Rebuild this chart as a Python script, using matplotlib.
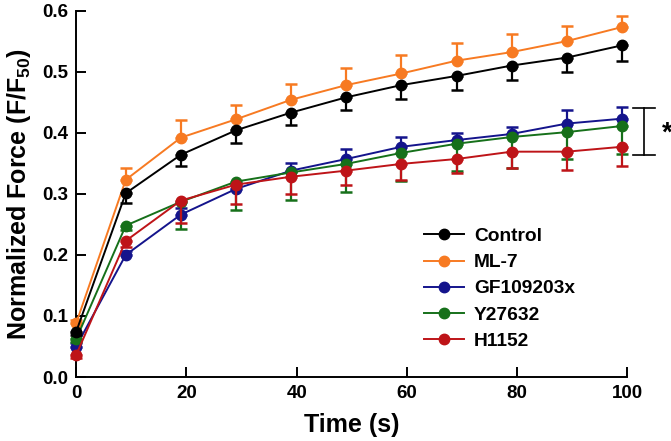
import matplotlib
matplotlib.use("Agg")
import matplotlib.pyplot as plt

plt.rcParams["font.family"] = "Liberation Sans"
plt.rcParams["font.weight"] = "bold"
plt.rcParams["mathtext.fontset"] = "custom"
plt.rcParams["mathtext.rm"] = "Liberation Sans:bold"
plt.rcParams["mathtext.it"] = "Liberation Sans:bold"
plt.rcParams["mathtext.bf"] = "Liberation Sans:bold"

time_s = [0, 9, 19, 29, 39, 49, 59, 69, 79, 89, 99]

control = [0.074, 0.301, 0.364, 0.404, 0.433, 0.458, 0.478, 0.493, 0.510, 0.523, 0.543]
control_err = [0.005, 0.016, 0.019, 0.020, 0.020, 0.020, 0.022, 0.023, 0.024, 0.024, 0.026]
ml7 = [0.088, 0.323, 0.392, 0.422, 0.454, 0.478, 0.497, 0.518, 0.532, 0.550, 0.573]
ml7_err = [0.005, 0.020, 0.029, 0.023, 0.026, 0.028, 0.030, 0.029, 0.029, 0.025, 0.018]
gf = [0.050, 0.200, 0.266, 0.308, 0.338, 0.357, 0.377, 0.388, 0.398, 0.415, 0.423]
gf_err = [0.005, 0.006, 0.010, 0.008, 0.012, 0.016, 0.016, 0.012, 0.011, 0.023, 0.019]
y27 = [0.062, 0.248, 0.287, 0.320, 0.335, 0.349, 0.367, 0.382, 0.393, 0.401, 0.411]
y27_err = [0.005, 0.008, 0.044, 0.046, 0.045, 0.046, 0.046, 0.045, 0.050, 0.044, 0.045]
h1152 = [0.036, 0.223, 0.289, 0.315, 0.328, 0.338, 0.349, 0.357, 0.369, 0.369, 0.377]
h1152_err = [0.005, 0.010, 0.037, 0.031, 0.028, 0.024, 0.026, 0.023, 0.027, 0.030, 0.031]

# (label, values, errors, colour, error direction)
series = [
    ("Control", control, control_err, "#000000", "down"),
    ("ML-7", ml7, ml7_err, "#F77A22", "up"),
    ("GF109203x", gf, gf_err, "#14148C", "up"),
    ("Y27632", y27, y27_err, "#16701A", "down"),
    ("H1152", h1152, h1152_err, "#BE1418", "down"),
]
draw_order = ["ML-7", "GF109203x", "Y27632", "H1152", "Control"]

fig = plt.figure(figsize=(6.71, 4.41), dpi=100)
ax = fig.add_axes([0.1135, 0.145, 0.8215, 0.831])

handles = {}
for z, name in enumerate(draw_order):
    label, vals, err, color, direction = next(s for s in series if s[0] == name)
    zeros = [0] * len(err)
    yerr = [err, zeros] if direction == "down" else [zeros, err]
    h = ax.errorbar(time_s, vals, yerr=yerr, color=color, marker="o", markersize=7.5,
                    linewidth=1.4, elinewidth=1.6, capsize=4.5, capthick=1.8,
                    label=label, clip_on=False, zorder=3 + z)
    for art in h.lines[1] + h.lines[2]:
        art.set_clip_on(False)
    handles[label] = h

leg_handles = [handles[s[0]].lines[0] for s in series]
ax.legend(leg_handles, [s[0] for s in series], loc="upper left",
          bbox_to_anchor=(0.6, 0.455), frameon=False, fontsize=13.8,
          handlelength=2.1, handletextpad=0.5, labelspacing=0.46)

# significance bracket
ax.plot([103, 103], [0.364, 0.441], color="black", lw=1.2, clip_on=False)
ax.plot([101, 105], [0.441, 0.441], color="black", lw=1.2, clip_on=False)
ax.plot([101, 105], [0.364, 0.364], color="black", lw=1.2, clip_on=False)
ax.text(106.2, 0.398, "*", fontsize=20, va="center", ha="left")

ax.set_xlim(0, 100)
ax.set_ylim(0, 0.6)
ax.set_xticks([0, 20, 40, 60, 80, 100])
ax.set_yticks([0.0, 0.1, 0.2, 0.3, 0.4, 0.5, 0.6])
ax.set_yticklabels(["0.0", "0.1", "0.2", "0.3", "0.4", "0.5", "0.6"])
ax.spines["top"].set_visible(False)
ax.spines["right"].set_visible(False)
ax.spines["left"].set_linewidth(1.4)
ax.spines["bottom"].set_linewidth(1.4)
ax.tick_params(direction="in", length=7, width=1.4, labelsize=13.5, pad=6)
ax.set_xlabel("Time (s)", fontsize=18, fontweight="bold", labelpad=8)
ax.set_ylabel("Normalized Force (F/F$_{50}$)", fontsize=18, fontweight="bold", labelpad=6)

fig.savefig("out.png", dpi=100)
